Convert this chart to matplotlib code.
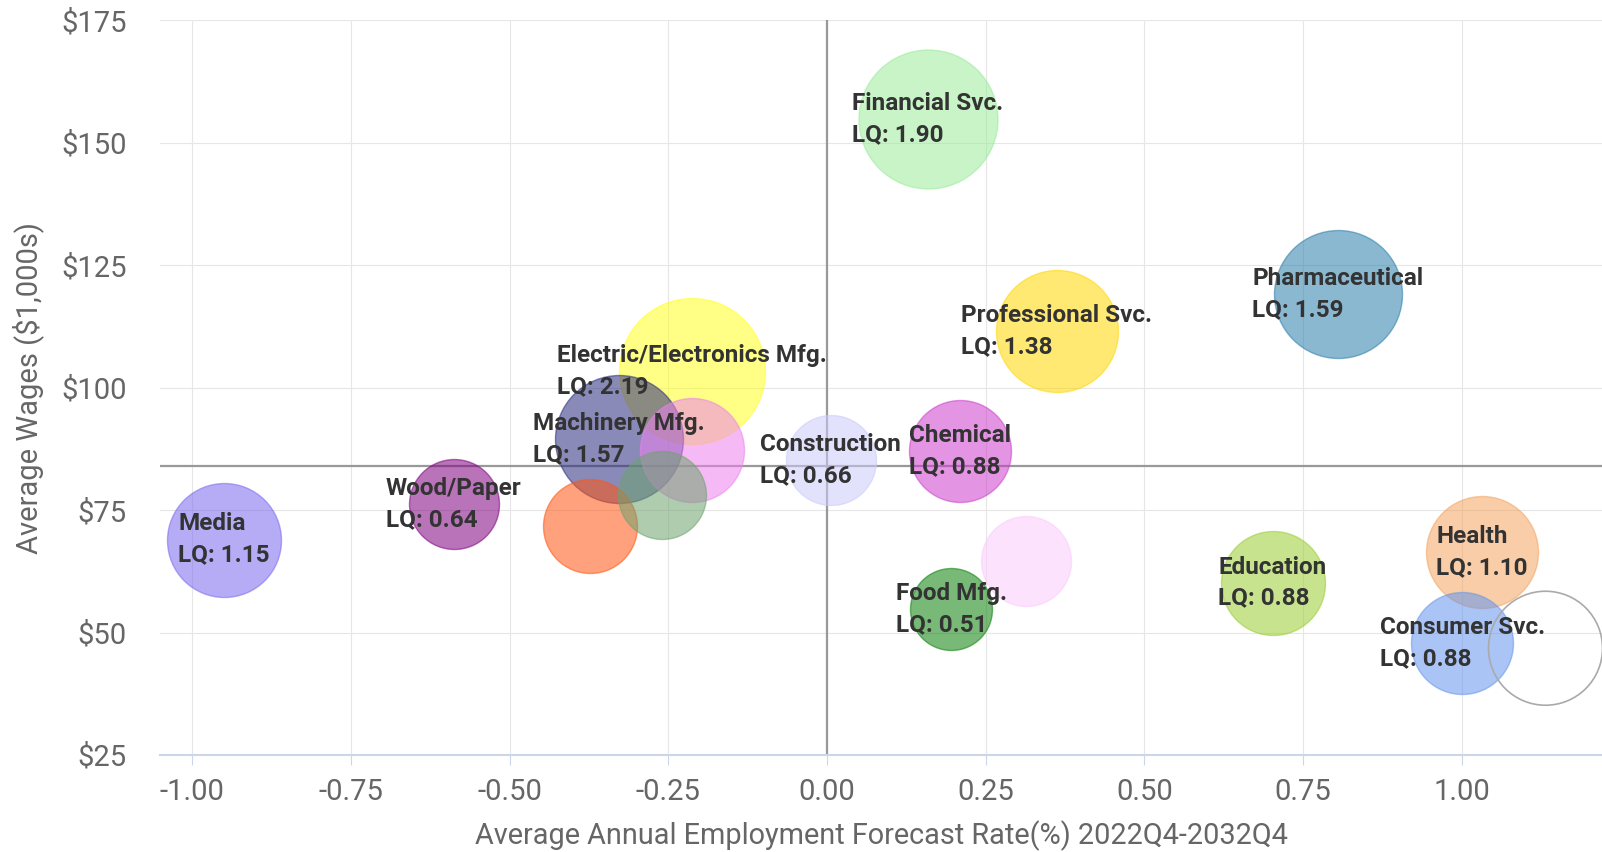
import matplotlib
matplotlib.use("Agg")
import matplotlib.pyplot as plt

plt.rcParams['font.family'] = ['Roboto', 'DejaVu Sans']
plt.rcParams['axes.unicode_minus'] = False

# industry bubbles: forecast growth (%), avg wage ($1,000s), bubble size, LQ
industries = ['Financial Svc.', 'Pharmaceutical', 'Professional Svc.',
              'Electric/Electronics Mfg.', 'Machinery Mfg.', None, None, None,
              'Wood/Paper', 'Media', 'Construction', 'Chemical', None,
              'Food Mfg.', 'Education', 'Health', 'Consumer Svc.', None]
growth = [0.159, 0.805, 0.362, -0.213, -0.328, -0.213, -0.374, -0.260,
          -0.588, -0.950, 0.006, 0.209, 0.313, 0.196, 0.702, 1.032, 1.001, 1.132]
wages = [154.8, 119.2, 111.6, 103.4, 89.5, 87.3, 71.8, 78.1,
         76.2, 69.0, 85.2, 87.1, 64.6, 54.8, 60.2, 66.5, 47.8, 46.8]
bubble_z = [69.5, 64, 61, 73, 64, 52, 47, 44, 45, 57, 45, 51, 45, 41, 52, 56, 51, 57]
lq = [1.90, 1.59, 1.38, 2.19, 1.57, None, None, None, 0.64, 1.15, 0.66, 0.88,
      None, 0.51, 0.88, 1.10, 0.88, None]
colors = ['#9beb9b', '#2a7eab', '#ffd700', '#ffff22', '#2a2a80', '#ee82ee',
          '#ff5511', '#6ea36e', '#800080', '#7b68ee', '#cbcbfa', '#cc3ecc',
          '#fccbfc', '#0a800a', '#9acd32', '#f4a460', '#6495ed', 'none']

avg_growth = 0.0
avg_wage = 84.0

y_ticks = [25, 50, 75, 100, 125, 150, 175]
x_ticks = [-1.0, -0.75, -0.5, -0.25, 0.0, 0.25, 0.5, 0.75, 1.0]

fig = plt.figure(figsize=(16.02, 8.52), dpi=100)
ax = fig.add_axes([160 / 1602, 1 - 755 / 852, 1442 / 1602, 734.6 / 852])
ax.set_xlim(-1.051, 1.221)
ax.set_ylim(25, 175)

ax.axvline(avg_growth, color='#999999', lw=1.6, zorder=1.5)
ax.axhline(avg_wage, color='#999999', lw=1.6, zorder=1.5)

for i in range(len(growth)):
    size = (1.44 * bubble_z[i]) ** 2
    if colors[i] == 'none':
        ax.scatter(growth[i], wages[i], s=size, facecolors='none',
                   edgecolors='#aaaaaa', linewidths=1.2, zorder=3 + i * 0.01, clip_on=False)
    else:
        ax.scatter(growth[i], wages[i], s=size, color=colors[i], alpha=0.55,
                   edgecolors=colors[i], linewidths=1, zorder=3 + i * 0.01, clip_on=False)

for i in range(len(growth)):
    if industries[i] is None:
        continue
    ax.text(growth[i], wages[i], f"{industries[i]}\nLQ: {lq[i]:.2f}",
            ha='center', va='center', multialignment='left', fontsize=17.5,
            fontweight='bold', color='#333333', linespacing=1.45, zorder=10)

ax.set_yticks(y_ticks)
ax.set_yticklabels([f"${v}" for v in y_ticks])
ax.set_xticks(x_ticks)
ax.set_xticklabels([f"{v:.2f}" for v in x_ticks])
ax.grid(True, color='#e6e6e6', lw=0.8, zorder=0)
ax.set_axisbelow(True)

for side in ['top', 'right', 'left']:
    ax.spines[side].set_visible(False)
ax.spines['bottom'].set_color('#ccd6eb')
ax.spines['bottom'].set_linewidth(1.5)

ax.tick_params(axis='y', length=0, pad=24, labelsize=21, labelcolor='#666666')
ax.tick_params(axis='x', length=7.2, width=0.8, color='#ccd6eb', pad=9,
               labelsize=21, labelcolor='#666666')

ax.set_xlabel('Average Annual Employment Forecast Rate(%) 2022Q4-2032Q4',
              fontsize=20.8, color='#666666', labelpad=11)
ax.set_ylabel('Average Wages ($1,000s)', fontsize=21, color='#666666', labelpad=12)

fig.savefig('out.png', dpi=100)
